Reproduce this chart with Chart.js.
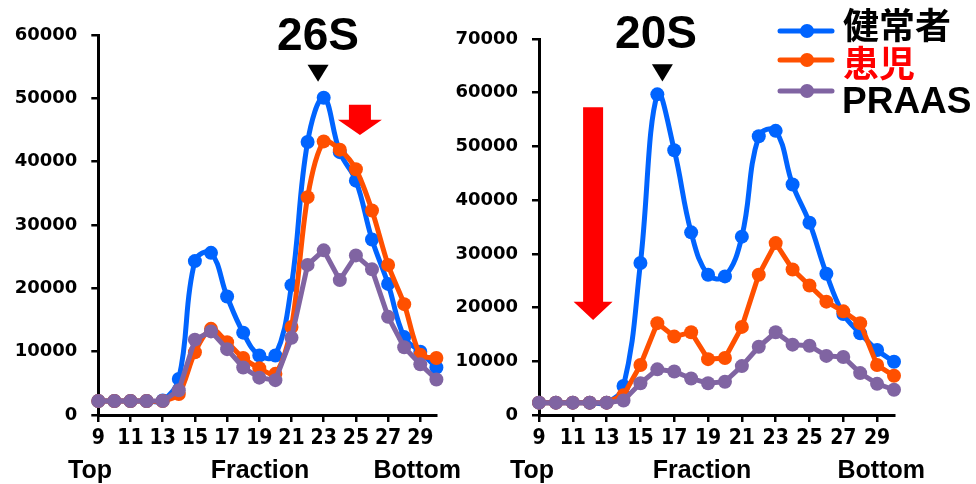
<!DOCTYPE html>
<html><head><meta charset="utf-8">
<script src="https://cdn.jsdelivr.net/npm/chart.js@4/dist/chart.umd.min.js"></script>
<style>
body{margin:0;background:#fff;width:976px;height:484px;overflow:hidden;position:relative;font-family:"Liberation Sans",Arial,sans-serif}
canvas{position:absolute;top:0}
.t{position:absolute;font-weight:bold;white-space:nowrap;color:#000}
.title{font-size:46px;line-height:46px;transform:translateX(-50%)}
.ax{font-size:25px;line-height:25px}
.cjk{font-family:"Noto Sans CJK JP",sans-serif;font-size:36px;line-height:36px}
.lat{font-size:37px;line-height:37px}
</style></head><body>
<canvas id="c1" width="470" height="484" style="left:0"></canvas>
<canvas id="c2" width="536" height="484" style="left:440px"></canvas>
<canvas id="lg" width="80" height="120" style="left:770px"></canvas>

<div class="t title" style="left:318px;top:11px">26S</div>
<div class="t title" style="left:656px;top:9px">20S</div>

<div class="t ax" style="left:68px;top:457px">Top</div>
<div class="t ax" style="left:260px;top:457px;transform:translateX(-50%)">Fraction</div>
<div class="t ax" style="left:461px;top:457px;transform:translateX(-100%)">Bottom</div>
<div class="t ax" style="left:510px;top:457px">Top</div>
<div class="t ax" style="left:702px;top:457px;transform:translateX(-50%)">Fraction</div>
<div class="t ax" style="left:925px;top:457px;transform:translateX(-100%)">Bottom</div>

<div class="t cjk" id="n0" style="left:843px;top:5px"></div>
<div class="t cjk" id="n1" style="left:843px;top:43px;color:#FF0000"></div>
<div class="t lat" id="n2" style="left:842px;top:82px"></div>

<script>
// ---- data ----
const fractions = [9,10,11,12,13,14,15,16,17,18,19,20,21,22,23,24,25,26,27,28,29,30];
const xTickLabels = [9,11,13,15,17,19,21,23,25,27,29];
const yTicks26 = [0,10000,20000,30000,40000,50000,60000];
const yTicks20 = [0,10000,20000,30000,40000,50000,60000,70000];
const seriesNames = ['健常者','患児','PRAAS'];

const healthy26 = [2200,2200,2200,2200,2300,5700,24300,25600,18700,13000,9400,9400,20500,43100,50100,41500,37000,27700,20700,12300,10000,7500];
const patient26 = [2200,2200,2200,2200,2200,3300,9900,13600,11500,9000,7400,6500,13900,34400,43200,41900,38800,32300,23700,17500,9500,9000];
const praas26   = [2200,2200,2200,2200,2200,3900,11900,13200,10400,7500,5900,5500,12200,23700,26000,21300,25200,23000,15500,10700,8000,5600];

const healthy20 = [2300,2300,2300,2300,2300,5400,28300,59700,49300,34000,26100,25800,33200,51900,52900,42900,35800,26300,18800,15200,12100,9900];
const patient20 = [2300,2300,2300,2300,2300,3700,9300,17100,14600,15400,10400,10600,16400,26100,32000,27100,24100,21100,19300,17100,9300,7300];
const praas20   = [2300,2300,2300,2300,2300,2700,5900,8500,8100,6800,5900,6200,9100,12700,15400,13100,12900,11000,10800,7800,5800,4700];

// ---- styles ----
const colors = ['#0064FF','#FF5000','#8064A2'];
const yTickFont = {family:'"DejaVu Sans", sans-serif', size:18, weight:'bold'};
const xTickFont = {family:'"Liberation Sans Narrow", "DejaVu Sans Condensed", sans-serif', size:21, weight:'bold'};

const toXY = vals => fractions.map((f,i)=>({x:f,y:vals[i]}));

function ds(i, vals, tension){
  const c = colors[i];
  return {label:seriesNames[i], data:toXY(vals), borderColor:c, backgroundColor:c,
    borderWidth:5, pointRadius:7, pointBackgroundColor:c, pointBorderWidth:0,
    tension:tension, order:3-i, clip:false};
}

const markPlugin = {
  id:'marks',
  afterDatasetsDraw(chart, args, o){
    const ctx = chart.ctx, x = chart.scales.x, y = chart.scales.y;
    ctx.save();
    const tx = x.getPixelForValue(o.tri.x);
    const tt = y.getPixelForValue(o.tri.top), tb = y.getPixelForValue(o.tri.tip);
    ctx.fillStyle = '#000';
    ctx.beginPath();
    ctx.moveTo(tx - o.tri.half, tt); ctx.lineTo(tx + o.tri.half, tt); ctx.lineTo(tx, tb);
    ctx.closePath(); ctx.fill();
    const a = o.arrow;
    const ax = x.getPixelForValue(a.x);
    const at = y.getPixelForValue(a.top), ah = y.getPixelForValue(a.head), ap = y.getPixelForValue(a.tip);
    ctx.fillStyle = '#FF0000';
    ctx.beginPath();
    ctx.moveTo(ax - a.shaft, at); ctx.lineTo(ax + a.shaft, at); ctx.lineTo(ax + a.shaft, ah);
    ctx.lineTo(ax + a.headHalf, ah); ctx.lineTo(ax, ap); ctx.lineTo(ax - a.headHalf, ah);
    ctx.lineTo(ax - a.shaft, ah); ctx.closePath(); ctx.fill();
    ctx.restore();
  }
};

function build(id, sets, yMax, yTicks, lay, marks){
  return new Chart(document.getElementById(id), {
    type:'line',
    data:{datasets:sets},
    options:{
      responsive:false, animation:false, events:[],
      layout:{padding:lay.padding},
      plugins:{legend:{display:false}, tooltip:{enabled:false}, marks:marks},
      scales:{
        x:{type:'linear', min:9, max:30,
          afterBuildTicks:s=>{s.ticks = xTickLabels.map(v=>({value:v}));},
          afterFit:s=>{s.height = lay.xh;},
          grid:{drawOnChartArea:false, tickLength:7, lineWidth:2.5, color:'#000'},
          border:{color:'#000', width:3},
          ticks:{color:'#000', font:xTickFont, padding:4, maxRotation:0, autoSkip:false, callback:v=>String(v)}},
        y:{min:0, max:yMax,
          afterBuildTicks:s=>{s.ticks = yTicks.map(v=>({value:v}));},
          afterFit:s=>{s.width = lay.yw;},
          grid:{drawOnChartArea:false, tickLength:7, lineWidth:2.5, color:'#000'},
          border:{color:'#000', width:3},
          ticks:{color:'#000', font:yTickFont, padding:14, callback:v=>String(v)}}
      }
    },
    plugins:[markPlugin]
  });
}

build('c1', [ds(0,healthy26,0.4), ds(1,patient26,0.3), ds(2,praas26,0)], 60000, yTicks26,
  {padding:{top:35,right:33.6,bottom:0,left:0}, yw:98.3, xh:69},
  {tri:{x:22.65, top:55300, tip:52600, half:10.5},
   arrow:{x:25.25, top:49000, head:46600, tip:44200, shaft:11, headHalf:22}});

build('c2', [ds(0,healthy20,0.4), ds(1,patient20,0), ds(2,praas20,0)], 70000, yTicks20,
  {padding:{top:39,right:82,bottom:0,left:0}, yw:99, xh:69},
  {tri:{x:16.3, top:65300, tip:62100, half:10.5},
   arrow:{x:12.2, top:57300, head:21100, tip:17700, shaft:10, headHalf:19.5}});

// legend
const lg = document.getElementById('lg').getContext('2d');
const legendY = [31,60,91];
for(let i=0;i<3;i++){
  lg.strokeStyle = colors[i]; lg.fillStyle = colors[i]; lg.lineWidth = 5; lg.lineCap='round';
  lg.beginPath(); lg.moveTo(10, legendY[i]); lg.lineTo(62, legendY[i]); lg.stroke();
  lg.beginPath(); lg.arc(37, legendY[i], 7, 0, Math.PI*2); lg.fill();
  document.getElementById('n'+i).textContent = seriesNames[i];
}
</script>
</body></html>
